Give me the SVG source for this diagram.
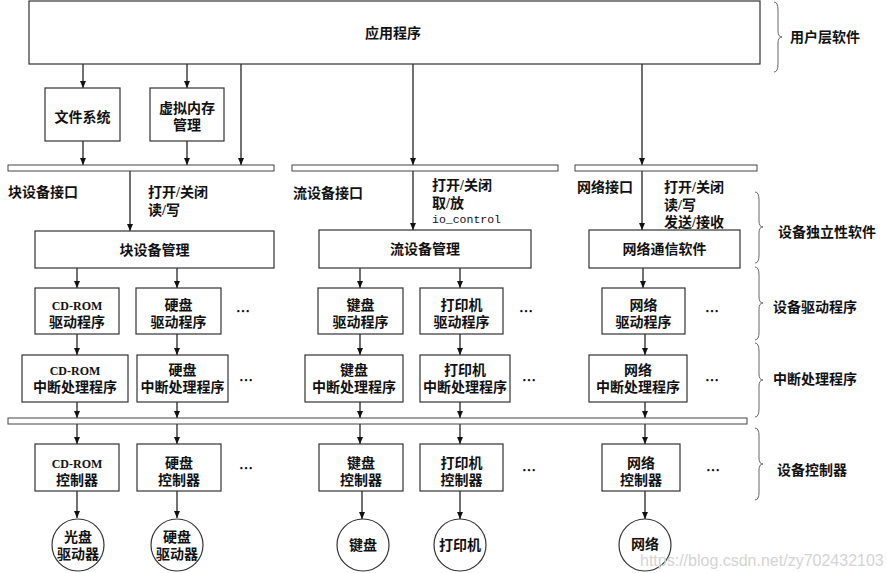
<svg xmlns="http://www.w3.org/2000/svg" width="887" height="573" viewBox="0 0 887 573">
<style>
.bx{fill:#fff;stroke:#333;stroke-width:1.2}
.bar{fill:#fff;stroke:#444;stroke-width:1}
.t{font-family:"Liberation Serif","Noto Sans CJK SC",serif;font-size:14px;font-weight:bold;fill:#111;text-anchor:middle}
.cd{font-size:12px}
.l{font-family:"Liberation Serif","Noto Sans CJK SC",serif;font-size:14px;font-weight:bold;fill:#111}
.m{font-family:"Liberation Mono",monospace;font-size:11.5px;fill:#111}
.d{font-family:"Noto Sans CJK SC",sans-serif;font-size:14px;font-weight:bold;fill:#111}
.c{stroke:#111;stroke-width:1.2;fill:none;marker-end:url(#ah)}
.br{stroke:#666;stroke-width:1;fill:none}
.wm{font-family:"Liberation Sans",sans-serif;font-size:16px;fill:#d4d4d4}
</style>
<defs>
<marker id="ah" markerUnits="userSpaceOnUse" markerWidth="7" markerHeight="6" refX="7" refY="3" orient="auto">
<path d="M0,0 L7,3 L0,6 z" fill="#111"/>
</marker>
</defs>
<rect width="887" height="573" fill="#fff"/>

<g id="connectors">
<line class="c" x1="83" y1="64" x2="83" y2="88"/>
<line class="c" x1="187" y1="64" x2="187" y2="88"/>
<line class="c" x1="241" y1="64" x2="241" y2="165"/>
<line class="c" x1="413" y1="64" x2="413" y2="165"/>
<line class="c" x1="642" y1="64" x2="642" y2="165"/>
<line class="c" x1="83" y1="141" x2="83" y2="165"/>
<line class="c" x1="187" y1="141" x2="187" y2="165"/>
<line class="c" x1="130" y1="171" x2="130" y2="231"/>
<line class="c" x1="413" y1="171" x2="413" y2="230"/>
<line class="c" x1="642" y1="171" x2="642" y2="230"/>
<line class="c" x1="77" y1="268" x2="77" y2="288"/>
<line class="c" x1="177" y1="268" x2="177" y2="288"/>
<line class="c" x1="360" y1="268" x2="360" y2="288"/>
<line class="c" x1="460" y1="268" x2="460" y2="288"/>
<line class="c" x1="643" y1="268" x2="643" y2="288"/>
<line class="c" x1="77" y1="334" x2="77" y2="355"/>
<line class="c" x1="177" y1="334" x2="177" y2="355"/>
<line class="c" x1="360" y1="334" x2="360" y2="355"/>
<line class="c" x1="460" y1="334" x2="460" y2="355"/>
<line class="c" x1="645" y1="334" x2="645" y2="355"/>
<line class="c" x1="77" y1="402" x2="77" y2="418"/>
<line class="c" x1="177" y1="402" x2="177" y2="418"/>
<line class="c" x1="360" y1="402" x2="360" y2="418"/>
<line class="c" x1="460" y1="402" x2="460" y2="418"/>
<line class="c" x1="645" y1="402" x2="645" y2="418"/>
<line class="c" x1="77" y1="424" x2="77" y2="444"/>
<line class="c" x1="177" y1="424" x2="177" y2="444"/>
<line class="c" x1="360" y1="424" x2="360" y2="444"/>
<line class="c" x1="460" y1="424" x2="460" y2="444"/>
<line class="c" x1="645" y1="424" x2="645" y2="444"/>
<line class="c" x1="77" y1="491" x2="77" y2="518"/>
<line class="c" x1="177" y1="491" x2="177" y2="518"/>
<line class="c" x1="362" y1="491" x2="362" y2="519"/>
<line class="c" x1="460" y1="491" x2="460" y2="519"/>
<line class="c" x1="645" y1="491" x2="645" y2="519"/>
</g>

<g id="app"><rect class="bx" x="29" y="1" width="731" height="63"/><text class="t" x="393" y="38">应用程序</text></g>
<g id="fs"><rect class="bx" x="45" y="88" width="75" height="53"/><text class="t" x="82.5" y="122">文件系统</text></g>
<g id="vm"><rect class="bx" x="150" y="88" width="74" height="53"/><text class="t" x="187" y="113">虚拟内存</text><text class="t" x="187" y="130">管理</text></g>

<g id="bar-block"><rect class="bar" x="8" y="165" width="266" height="6"/></g>
<g id="bar-stream"><rect class="bar" x="292" y="165" width="266" height="6"/></g>
<g id="bar-net"><rect class="bar" x="575" y="165" width="182" height="6"/></g>
<g id="bus"><rect class="bar" x="8" y="418" width="739" height="6"/></g>

<g id="labels-block">
<text class="l" x="8" y="197">块设备接口</text>
<text class="l" x="148" y="197">打开/关闭</text>
<text class="l" x="148" y="215">读/写</text>
</g>
<g id="labels-stream">
<text class="l" x="293" y="198">流设备接口</text>
<text class="l" x="432" y="190">打开/关闭</text>
<text class="l" x="432" y="208">取/放</text>
<text class="m" x="432" y="223">io_control</text>
</g>
<g id="labels-net">
<text class="l" x="577" y="192">网络接口</text>
<text class="l" x="664" y="192">打开/关闭</text>
<text class="l" x="664" y="210">读/写</text>
<text class="l" x="664" y="227">发送/接收</text>
</g>

<g id="blockmgr"><rect class="bx" x="35" y="231" width="239" height="37"/><text class="t" x="154.5" y="255">块设备管理</text></g>
<g id="streammgr"><rect class="bx" x="319" y="230" width="212" height="38"/><text class="t" x="425" y="254">流设备管理</text></g>
<g id="netcomm"><rect class="bx" x="589" y="230" width="151" height="38"/><text class="t" x="664.5" y="254">网络通信软件</text></g>

<g id="cd-drv"><rect class="bx" x="35" y="288" width="84" height="46"/><text class="t cd" x="77" y="310">CD-ROM</text><text class="t" x="77" y="327">驱动程序</text></g>
<g id="hd-drv"><rect class="bx" x="136" y="288" width="85" height="46"/><text class="t" x="178.5" y="310">硬盘</text><text class="t" x="178.5" y="327">驱动程序</text></g>
<g id="kb-drv"><rect class="bx" x="318" y="288" width="85" height="46"/><text class="t" x="360.5" y="310">键盘</text><text class="t" x="360.5" y="327">驱动程序</text></g>
<g id="pr-drv"><rect class="bx" x="420" y="288" width="83" height="46"/><text class="t" x="461.5" y="310">打印机</text><text class="t" x="461.5" y="327">驱动程序</text></g>
<g id="net-drv"><rect class="bx" x="602" y="288" width="83" height="46"/><text class="t" x="643.5" y="310">网络</text><text class="t" x="643.5" y="327">驱动程序</text></g>

<g id="cd-int"><rect class="bx" x="22" y="355" width="106" height="47"/><text class="t cd" x="75" y="375">CD-ROM</text><text class="t" x="75" y="392">中断处理程序</text></g>
<g id="hd-int"><rect class="bx" x="137" y="355" width="91" height="47"/><text class="t" x="182.5" y="375">硬盘</text><text class="t" x="182.5" y="392">中断处理程序</text></g>
<g id="kb-int"><rect class="bx" x="305" y="355" width="98" height="47"/><text class="t" x="354" y="375">键盘</text><text class="t" x="354" y="392">中断处理程序</text></g>
<g id="pr-int"><rect class="bx" x="420" y="355" width="90" height="47"/><text class="t" x="465" y="375">打印机</text><text class="t" x="465" y="392">中断处理程序</text></g>
<g id="net-int"><rect class="bx" x="589" y="355" width="98" height="47"/><text class="t" x="638" y="375">网络</text><text class="t" x="638" y="392">中断处理程序</text></g>

<g id="cd-ctl"><rect class="bx" x="35" y="444" width="84" height="47"/><text class="t cd" x="77" y="468">CD-ROM</text><text class="t" x="77" y="485">控制器</text></g>
<g id="hd-ctl"><rect class="bx" x="137" y="444" width="84" height="47"/><text class="t" x="179" y="468">硬盘</text><text class="t" x="179" y="485">控制器</text></g>
<g id="kb-ctl"><rect class="bx" x="319" y="444" width="84" height="47"/><text class="t" x="361" y="468">键盘</text><text class="t" x="361" y="485">控制器</text></g>
<g id="pr-ctl"><rect class="bx" x="420" y="444" width="83" height="47"/><text class="t" x="461.5" y="468">打印机</text><text class="t" x="461.5" y="485">控制器</text></g>
<g id="net-ctl"><rect class="bx" x="602" y="444" width="78" height="47"/><text class="t" x="641" y="468">网络</text><text class="t" x="641" y="485">控制器</text></g>

<g id="cd-dev"><circle class="bx" cx="78" cy="545" r="26"/><text class="t" x="78" y="542">光盘</text><text class="t" x="78" y="559">驱动器</text></g>
<g id="hd-dev"><circle class="bx" cx="177" cy="545" r="26"/><text class="t" x="177" y="542">硬盘</text><text class="t" x="177" y="559">驱动器</text></g>
<g id="kb-dev"><circle class="bx" cx="363" cy="545" r="26"/><text class="t" x="363" y="550">键盘</text></g>
<g id="pr-dev"><circle class="bx" cx="460" cy="545" r="26"/><text class="t" x="460" y="550">打印机</text></g>
<g id="net-dev"><circle class="bx" cx="645" cy="545" r="26"/><text class="t" x="645" y="549">网络</text></g>

<g id="dots">
<text class="d" x="236" y="316">…</text>
<text class="d" x="239" y="385">…</text>
<text class="d" x="239" y="473">…</text>
<text class="d" x="519" y="316">…</text>
<text class="d" x="522" y="385">…</text>
<text class="d" x="522" y="475">…</text>
<text class="d" x="705" y="316">…</text>
<text class="d" x="705" y="385">…</text>
<text class="d" x="706" y="475">…</text>
</g>

<g id="brackets">
<path class="br" d="M774,2 Q778,2 778,10 L778,31 Q778,37 782,37 Q778,37 778,43 L778,64 Q778,72 774,72"/>
<path class="br" d="M755,192 Q759,192 759,200 L759,221 Q759,227 763,227 Q759,227 759,233 L759,255 Q759,263 755,263"/>
<path class="br" d="M755,267 Q759,267 759,275 L759,297 Q759,303 763,303 Q759,303 759,309 L759,332 Q759,340 755,340"/>
<path class="br" d="M755,343 Q759,343 759,351 L759,374 Q759,380 763,380 Q759,380 759,386 L759,409 Q759,417 755,417"/>
<path class="br" d="M755,428 Q759,428 759,436 L759,458 Q759,464 763,464 Q759,464 759,470 L759,492 Q759,500 755,500"/>
<text class="l" x="790" y="42">用户层软件</text>
<text class="l" x="778" y="237">设备独立性软件</text>
<text class="l" x="773" y="312">设备驱动程序</text>
<text class="l" x="773" y="384">中断处理程序</text>
<text class="l" x="777" y="475">设备控制器</text>
</g>

<text class="wm" x="640" y="566">https://blog.csdn.net/zy702432103</text>
</svg>
